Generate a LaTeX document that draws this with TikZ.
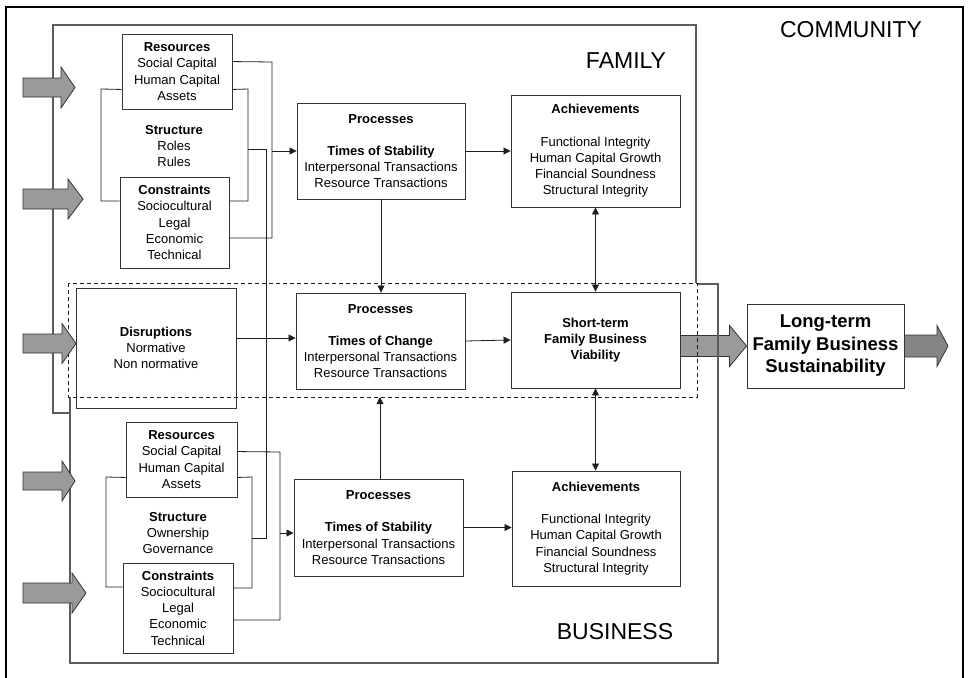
\documentclass[tikz,border=0pt]{standalone}
\usepackage{fontspec}
\setmainfont{Liberation Sans}
\usetikzlibrary{arrows.meta,calc}
\definecolor{linec}{HTML}{1E1E1E}
\definecolor{boxc}{HTML}{333333}
\definecolor{regc}{HTML}{5C5C5C}
\definecolor{garr}{HTML}{9A9A9A}
\definecolor{garrd}{HTML}{858585}
% fat arrow: #1 start coordinate, #2 tip coordinate (same height), #3 head length, #4 half shaft, #5 half head, #6 fill
\newcommand\fatarrow[6]{%
  \filldraw[fill=#6,draw=boxc,line width=0.8pt,line join=miter]
    ([yshift=#4pt]#1) -- ([xshift=-#3pt,yshift=#4pt]#2) -- ([xshift=-#3pt,yshift=#5pt]#2) -- (#2)
    -- ([xshift=-#3pt,yshift=-#5pt]#2) -- ([xshift=-#3pt,yshift=-#4pt]#2) -- ([yshift=-#4pt]#1) -- cycle;}
\begin{document}
\begin{tikzpicture}[x=1pt,y=-1pt,
  box/.style={draw=boxc,line width=0.9pt,fill=white,inner sep=0pt,align=center,
    font=\fontsize{13}{16.2}\selectfont},
  plain/.style={inner sep=0pt,align=center,font=\fontsize{13}{16.2}\selectfont},
  conn/.style={draw=linec,line width=0.8pt},
  arr/.style={conn,-{Triangle[length=7pt,width=7pt]}},
  darr/.style={conn,{Triangle[length=7pt,width=7pt]}-{Triangle[length=7pt,width=7pt]}},
  region/.style={draw=regc,line width=1.3pt},
  biglab/.style={font=\fontsize{23}{27}\selectfont,inner sep=0pt}
]
\useasboundingbox[fill=white] (0,0) rectangle (968,677);

% ---------- boxes ----------
\node[box,minimum width=110pt,minimum height=75pt] (fres) at (177,71.5)
  {\textbf{Resources}\\Social Capital\\Human Capital\\Assets};
\node[plain] (fstr) at (174,146) {\textbf{Structure}\\Roles\\Rules};
\node[box,minimum width=109pt,minimum height=91pt] (fcon) at (174.5,222.5)
  {\textbf{Constraints}\\Sociocultural\\Legal\\Economic\\Technical};
\node[box,minimum width=168pt,minimum height=96pt] (fproc) at (381,151)
  {\textbf{Processes}\\[16.2pt]\textbf{Times of Stability}\\Interpersonal Transactions\\Resource Transactions};
\node[box,minimum width=169pt,minimum height=112pt] (fach) at (595.5,151)
  {\textbf{Achievements}\\[16.2pt]Functional Integrity\\Human Capital Growth\\Financial Soundness\\Structural Integrity};

\node[box,minimum width=160pt,minimum height=120pt] (dis) at (156,348)
  {\textbf{Disruptions}\\Normative\\Non normative};
\node[box,minimum width=169pt,minimum height=96pt] (cproc) at (380.5,341)
  {\textbf{Processes}\\[16.2pt]\textbf{Times of Change}\\Interpersonal Transactions\\Resource Transactions};
\node[box,minimum width=169pt,minimum height=96pt] (st) at (595.5,340)
  {\textbf{Short-term}\\\textbf{Family Business}\\\textbf{Viability}};
\node[box,minimum width=157pt,minimum height=84pt,font=\fontsize{18.5}{22.5}\selectfont] (lt) at (825.5,346)
  {\textbf{Long-term}\\\textbf{Family Business}\\\textbf{Sustainability}};

\node[box,minimum width=111pt,minimum height=75pt] (bres) at (181.5,459.5)
  {\textbf{Resources}\\Social Capital\\Human Capital\\Assets};
\node[plain] (bstr) at (178,533) {\textbf{Structure}\\Ownership\\Governance};
\node[box,minimum width=110pt,minimum height=90pt] (bcon) at (178,608)
  {\textbf{Constraints}\\Sociocultural\\Legal\\Economic\\Technical};
\node[box,minimum width=169pt,minimum height=97pt] (bproc) at (378.5,527.5)
  {\textbf{Processes}\\[16.2pt]\textbf{Times of Stability}\\Interpersonal Transactions\\Resource Transactions};
\node[box,minimum width=168pt,minimum height=115pt] (bach) at (596,528.5)
  {\textbf{Achievements}\\[16.2pt]Functional Integrity\\Human Capital Growth\\Financial Soundness\\Structural Integrity};

% ---------- labels ----------
\node[biglab] (lcom) at (851,30) {COMMUNITY};
\node[biglab] (lfam) at (626,61) {FAMILY};
\node[biglab] (lbus) at (615,632) {BUSINESS};

% ---------- big arrow short-term -> long-term (under region lines) ----------
\coordinate (ba0) at (st.east |- lt.west);
\fatarrow{ba0}{lt.west}{17}{10.5}{20.5}{garr}

% ---------- regions ----------
\draw[draw=black,line width=2pt] (6,680) -- (6,7) -- (963,7) -- (963,680);
\draw[region] (696,283) -- (696,25) -- (53,25) -- (53,413) -- (70,413);
\draw[region] (70,397) -- (70,663) -- (718,663) -- (718,284) -- (697,284);
\draw[draw=linec,line width=0.8pt,dash pattern=on 4pt off 3pt] (68,283) rectangle (697,397);

% ---------- family connectors ----------
\draw[conn] ([yshift=20pt]fres.south west) -- (101,89) -- (101,201) -- (fcon.west |- 0,201);
\draw[conn] ([yshift=20pt]fres.south east) -- (248,89) -- (248,201) -- (fcon.east |- 0,201);
\draw[conn] ([yshift=-28pt]fres.north east) -- (272,62) -- (272,238) -- (fcon.east |- 0,238);
\draw[arr] (272,151) -- (fproc.west);
\draw[conn] (248,149) -- (266,149) -- (266,538) -- (252,538);
\draw[arr] (fproc.east) -- (fach.west);
\draw[arr] (fproc.south) -- (fproc.south |- cproc.north);
\draw[darr] (fach.south) -- (st.north);

% ---------- middle connectors ----------
\draw[arr] (dis.east |- 0,338) -- (cproc.west |- 0,338);
\draw[arr] (cproc.east) -- (st.west);
\draw[darr] (st.south) -- (st.south |- bach.north);
\coordinate (dashbot) at (0,397);
\draw[arr] (bproc.north -| 380,0) -- (380,397);

% ---------- business connectors ----------
\draw[conn] ([yshift=20pt]bres.south west) -- (106,477) -- (106,587) -- (bcon.west |- 0,587);
\draw[conn] ([yshift=20pt]bres.south east) -- (252,477) -- (252,588) -- (bcon.east |- 0,588);
\draw[conn] ([yshift=-30pt]bres.north east) -- (280,452) -- (280,620) -- (bcon.east |- 0,620);
\draw[arr] (280,533) -- (bproc.west |- 0,533);
\draw[arr] (bproc.east) -- (bproc.east -| bach.west);

% ---------- input / output fat arrows ----------
\coordinate (i1s) at (23,87.5);  \coordinate (i1t) at (75,87.5);
\coordinate (i2s) at (23,199);   \coordinate (i2t) at (83,199);
\coordinate (i3s) at (23,343.5); \coordinate (i3t) at (76,343.5);
\coordinate (i4s) at (23,481);   \coordinate (i4t) at (75,481);
\coordinate (i5s) at (23,593);   \coordinate (i5t) at (86,593);
\fatarrow{i1s}{i1t}{14}{9.5}{20.5}{garr}
\fatarrow{i2s}{i2t}{15}{10}{20}{garr}
\fatarrow{i3s}{i3t}{14}{9.5}{20}{garr}
\fatarrow{i4s}{i4t}{13}{9}{20}{garr}
\fatarrow{i5s}{i5t}{14}{10}{20}{garr}
\coordinate (outt) at (948,346);
\fatarrow{lt.east}{outt}{11}{11}{20.5}{garrd}
\end{tikzpicture}
\end{document}
